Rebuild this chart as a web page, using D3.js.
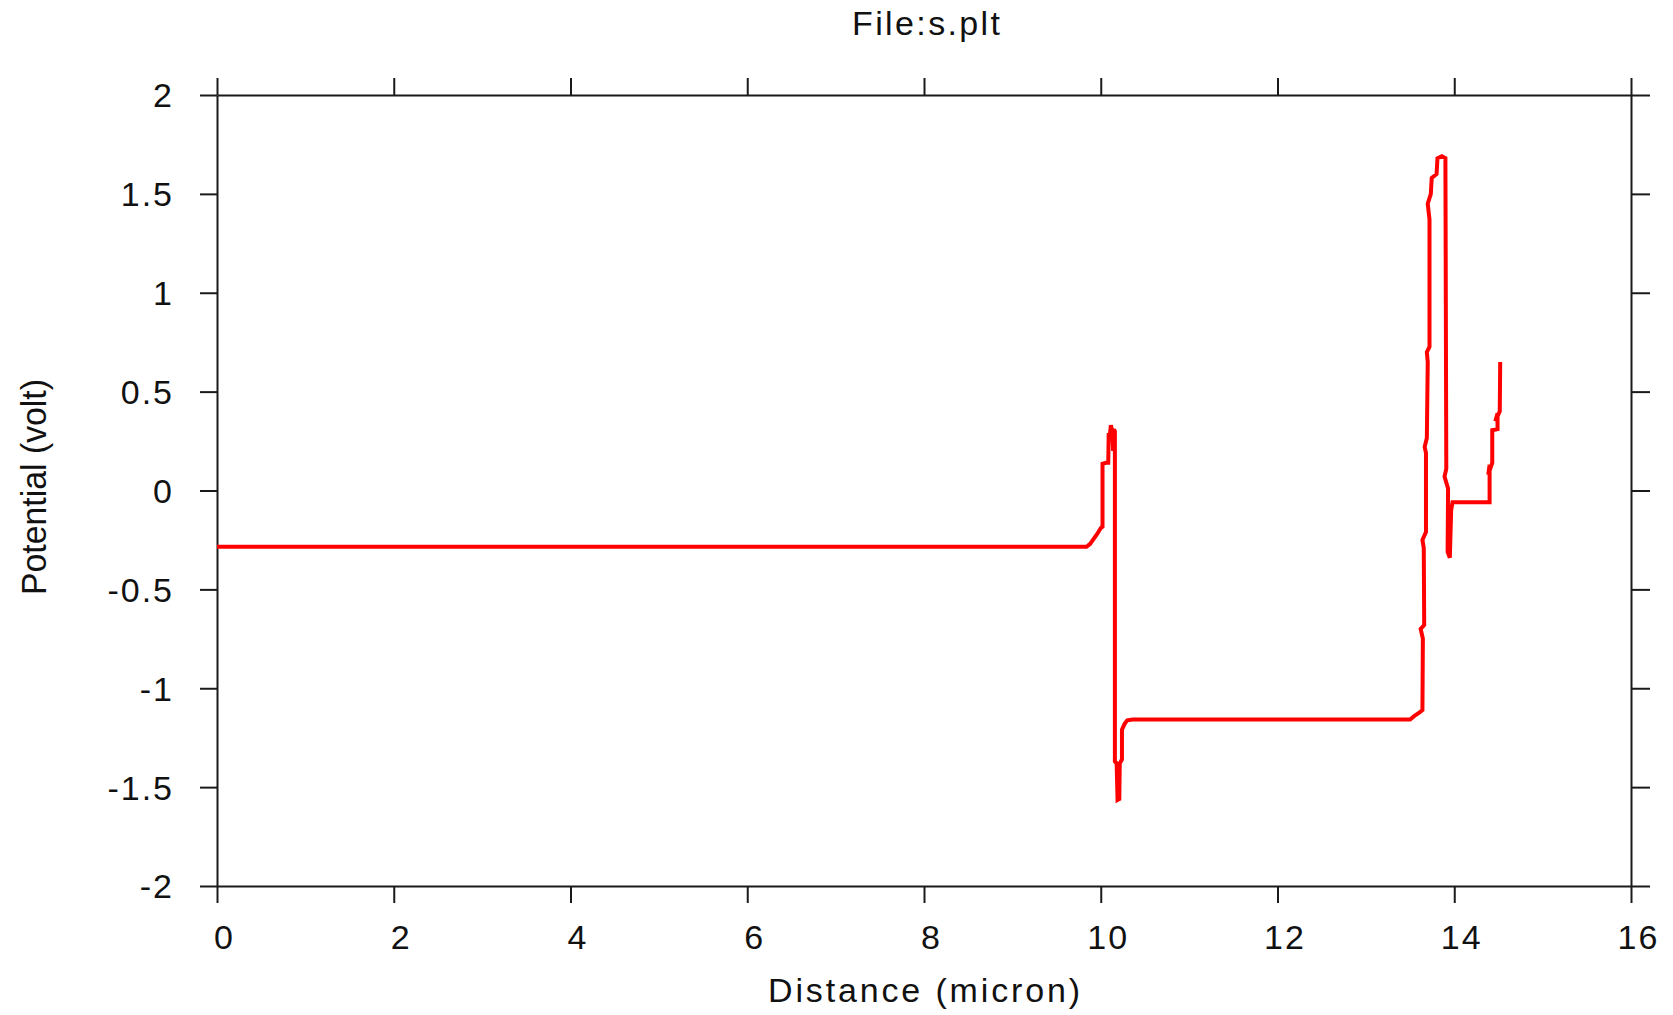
<!DOCTYPE html>
<html>
<head>
<meta charset="utf-8">
<script src="https://cdn.jsdelivr.net/npm/d3@7"></script>
<style>
  html, body { margin: 0; padding: 0; background: #ffffff; }
  svg { display: block; }
  text { font-family: "Liberation Sans", Arial, Helvetica, sans-serif; fill: #111; }
</style>
</head>
<body>
<script>
// Potential profile along the cut line (s.plt)
const distance = [
  0, 9.84, 9.88, 9.92, 9.96, 10.0, 10.02, 10.02, 10.06, 10.085,
  10.09, 10.10, 10.115, 10.13, 10.14, 10.15, 10.16, 10.16, 10.18, 10.19,
  10.21, 10.215, 10.24, 10.24, 10.27, 10.30, 10.36, 13.50, 13.55, 13.60,
  13.64, 13.645, 13.62, 13.66, 13.655, 13.64, 13.68, 13.68, 13.665, 13.69,
  13.70, 13.69, 13.72, 13.72, 13.70, 13.735, 13.745, 13.80, 13.81, 13.86,
  13.90, 13.91, 13.89, 13.93, 13.925, 13.95, 13.965, 13.98, 14.40, 14.40,
  14.385, 14.43, 14.43, 14.49, 14.49, 14.465, 14.515, 14.52
];
const potential = [
  -0.285, -0.285, -0.27, -0.245, -0.22, -0.19, -0.183, 0.135, 0.14, 0.14,
  0.29, 0.27, 0.33, 0.30, 0.20, 0.31, 0.30, -1.37, -1.38, -1.565,
  -1.56, -1.38, -1.36, -1.21, -1.18, -1.162, -1.158, -1.158, -1.14, -1.125,
  -1.11, -0.75, -0.70, -0.68, -0.29, -0.25, -0.21, 0.19, 0.22, 0.265,
  0.65, 0.70, 0.727, 1.37, 1.45, 1.50, 1.58, 1.60, 1.68, 1.69,
  1.68, 0.11, 0.07, 0.01, -0.31, -0.34, -0.10, -0.06, -0.06, 0.13,
  0.08, 0.14, 0.305, 0.31, 0.39, 0.35, 0.40, 0.65
];

const xTicks = [0, 2, 4, 6, 8, 10, 12, 14, 16];
const xTickLabels = ["0", "2", "4", "6", "8", "10", "12", "14", "16"];
const yTicks = [2, 1.5, 1, 0.5, 0, -0.5, -1, -1.5, -2];
const yTickLabels = ["2", "1.5", "1", "0.5", "0", "-0.5", "-1", "-1.5", "-2"];

const titleText = "File:s.plt";
const xTitle = "Distance (micron)";
const yTitle = "Potential (volt)";

const W = 1673, H = 1015;
const M = { left: 217, right: W - 1631, top: 95, bottom: H - 886 };
const TICK = 17;

const svg = d3.select("body").append("svg")
  .attr("width", W).attr("height", H);

svg.append("rect").attr("width", W).attr("height", H).attr("fill", "#fff");

const x = d3.scaleLinear().domain([0, 16]).range([M.left, W - M.right]);
const y = d3.scaleLinear().domain([-2, 2]).range([H - M.bottom, M.top]);

function styleAxis(g) {
  g.selectAll("path.domain").attr("stroke", "#1a1a1a").attr("stroke-width", 2);
  g.selectAll(".tick line").attr("stroke", "#1a1a1a").attr("stroke-width", 2);
  g.selectAll("text")
    .attr("fill", "#111")
    .style("font-family", '"Liberation Sans", Arial, sans-serif')
    .style("font-size", "34px")
    .style("letter-spacing", "2px");
}

// Bottom axis with labels
svg.append("g")
  .attr("transform", `translate(0,${H - M.bottom})`)
  .call(d3.axisBottom(x).tickValues(xTicks)
    .tickFormat((d, i) => xTickLabels[i])
    .tickSize(TICK).tickSizeOuter(0).tickPadding(22))
  .call(styleAxis)
  .call(g => g.selectAll("text").attr("dx", 7));

// Left axis with labels
svg.append("g")
  .attr("transform", `translate(${M.left},0)`)
  .call(d3.axisLeft(y).tickValues(yTicks)
    .tickFormat((d, i) => yTickLabels[i])
    .tickSize(TICK).tickSizeOuter(0).tickPadding(26))
  .call(styleAxis)
  .call(g => g.selectAll("text").attr("dy", "0.35em"));

// Top and right frame axes (ticks only)
svg.append("g")
  .attr("transform", `translate(0,${M.top})`)
  .call(d3.axisTop(x).tickValues(xTicks).tickFormat("")
    .tickSize(TICK).tickSizeOuter(0))
  .call(styleAxis);

svg.append("g")
  .attr("transform", `translate(${W - M.right},0)`)
  .call(d3.axisRight(y).tickValues(yTicks).tickFormat("")
    .tickSize(TICK + 2).tickSizeOuter(0))
  .call(styleAxis);

// Potential curve
const pts = distance.map((d, i) => [d, potential[i]]);
const line = d3.line().x(d => x(d[0])).y(d => y(d[1]));

svg.append("path")
  .datum(pts)
  .attr("d", line)
  .attr("fill", "none")
  .attr("stroke", "#ff0000")
  .attr("stroke-width", 4)
  .attr("stroke-linejoin", "miter")
  .attr("stroke-miterlimit", 2);

// Titles
svg.append("text")
  .attr("x", 926).attr("y", 35)
  .attr("text-anchor", "middle")
  .style("font-size", "34px")
  .attr("textLength", 148).attr("lengthAdjust", "spacing")
  .text(titleText);

svg.append("text")
  .attr("x", 924).attr("y", 1002)
  .attr("text-anchor", "middle")
  .style("font-size", "34px")
  .attr("textLength", 312).attr("lengthAdjust", "spacing")
  .text(xTitle);

svg.append("text")
  .attr("transform", `translate(46,487) rotate(-90)`)
  .attr("text-anchor", "middle")
  .style("font-size", "35px")
  .attr("textLength", 216).attr("lengthAdjust", "spacingAndGlyphs")
  .text(yTitle);
</script>
</body>
</html>
